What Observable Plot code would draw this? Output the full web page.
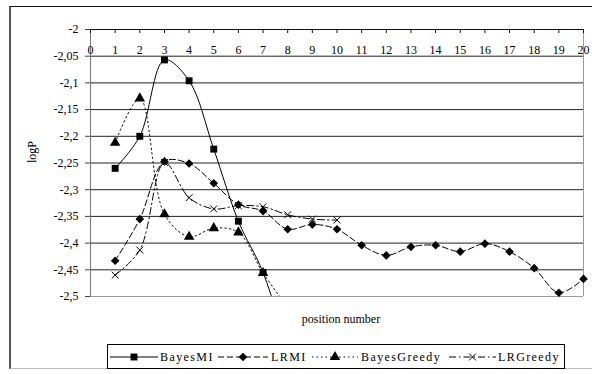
<!DOCTYPE html>
<html>
<head>
<meta charset="utf-8">
<script src="https://cdn.jsdelivr.net/npm/d3@7"></script>
<script src="https://cdn.jsdelivr.net/npm/@observablehq/plot@0.6"></script>
<style>
  html, body { margin: 0; padding: 0; background: #fff; }
  #wrap { position: relative; width: 592px; height: 374px; overflow: hidden; font-family: "Liberation Serif", "DejaVu Serif", serif; }
  #frame { position: absolute; left: 9px; top: 6px; width: 620px; height: 363px; border-top: 1px solid #111; border-left: 2px solid #555; border-bottom: 1px solid #bbb; box-sizing: border-box; }
  #chart { position: absolute; left: 0; top: 0; }
  #legend { position: absolute; left: 107px; top: 344px; width: 458px; height: 25px; border: 1px solid #000; box-sizing: border-box; background: #fff; }
  #legend svg { position: absolute; left: -1px; top: -1px; }
</style>
</head>
<body>
<div id="wrap">
  <div id="frame"></div>
  <div id="chart"></div>
  <div id="legend"></div>
</div>
<script>
// ---- data ----
const positions = [1, 2, 3, 4, 5, 6, 7, 8, 9, 10, 11, 12, 13, 14, 15, 16, 17, 18, 19, 20];
const seriesNames = ["BayesMI", "LRMI", "BayesGreedy", "LRGreedy"];
const bayesMI = [-2.26, -2.2, -2.057, -2.096, -2.224, -2.359, -2.455, -2.6];
const lrMI = [-2.433, -2.355, -2.247, -2.251, -2.288, -2.328, -2.34, -2.374, -2.365, -2.374,
              -2.404, -2.423, -2.407, -2.404, -2.416, -2.401, -2.416, -2.447, -2.493, -2.467];
const bayesGreedy = [-2.212, -2.129, -2.346, -2.388, -2.372, -2.38, -2.456, -2.52];
const lrGreedy = [-2.46, -2.413, -2.249, -2.315, -2.336, -2.33, -2.332, -2.347, -2.355, -2.357];
const xTicks = [0, 1, 2, 3, 4, 5, 6, 7, 8, 9, 10, 11, 12, 13, 14, 15, 16, 17, 18, 19, 20];
const yTicks = [-2, -2.05, -2.1, -2.15, -2.2, -2.25, -2.3, -2.35, -2.4, -2.45, -2.5];
const gridY = [-2.05, -2.1, -2.15, -2.2, -2.25, -2.3, -2.35, -2.4, -2.45];
const xLabel = "position number";
const yLabel = "logP";

// ---- styles ----
const styles = {
  BayesMI:     {dash: null,        symbol: "square",   r: 3.9, fill: "#000", stroke: "none"},
  LRMI:        {dash: "6,3",       symbol: "diamond2", r: 3.9, fill: "#000", stroke: "none"},
  BayesGreedy: {dash: "1.5,3",     symbol: "triangle", r: 3.9, fill: "#000", stroke: "none"},
  LRGreedy:    {dash: "7,3,1.5,3", symbol: "times",    r: 3.2, fill: "none", stroke: "#000"}
};
const values = {BayesMI: bayesMI, LRMI: lrMI, BayesGreedy: bayesGreedy, LRGreedy: lrGreedy};
const rows = name => values[name].map((v, i) => ({series: name, x: positions[i], y: v}));
const fmt = d => String(d).replace(".", ",");

const lineMarks = seriesNames.map(name => Plot.line(rows(name), {
  x: "x", y: "y", curve: "catmull-rom", stroke: "#000", strokeWidth: 1,
  strokeDasharray: styles[name].dash || undefined, clip: true
}));
// markers drawn in reverse order so BayesMI squares sit on top
const dotMarks = seriesNames.slice().reverse().map(name => Plot.dot(rows(name).filter(d => d.y >= -2.5), {
  x: "x", y: "y", symbol: () => styles[name].symbol, r: styles[name].r,
  fill: styles[name].fill, stroke: styles[name].stroke, strokeWidth: 1
}));

const chart = Plot.plot({
  width: 592, height: 374,
  marginLeft: 90, marginRight: 9, marginTop: 29, marginBottom: 78,
  x: {domain: [0, 20], axis: null},
  y: {domain: [-2.5, -2]},
  symbol: {type: "identity"},
  style: {fontFamily: "'Liberation Serif', serif", fontSize: "12px", background: "transparent", overflow: "visible", color: "#000"},
  marks: [
    Plot.ruleY(gridY, {stroke: "#222", strokeWidth: 1}),
    Plot.ruleY([-2.5], {stroke: "#9a9a9a"}),
    Plot.ruleX([20], {stroke: "#9a9a9a"}),
    Plot.ruleX([0], {stroke: "#777"}),
    Plot.ruleY([-2], {stroke: "#111"}),
    Plot.ruleX(xTicks, {x: d => d, y1: -2, y2: -2, insetBottom: -4, stroke: "#111"}),
    Plot.text(xTicks, {x: d => d, y: -2, dy: 21, text: d => String(d), fill: "#000"}),
    Plot.axisY({ticks: yTicks, tickFormat: fmt, tickSize: 5, tickPadding: 7, label: null, stroke: "#444"}),
    Plot.text([yLabel], {frameAnchor: "left", dx: -58, rotate: -90, fill: "#000"}),
    Plot.text([xLabel], {frameAnchor: "bottom", dy: 26, dx: 4, fill: "#000", letterSpacing: "0.5px"}),
    ...lineMarks,
    ...dotMarks
  ]
});
document.getElementById("chart").appendChild(chart);

// ---- legend ----
const legendItems = [
  {name: "BayesMI",     x0: 3,   x1: 51,  tx: 53},
  {name: "LRMI",        x0: 111, x1: 161, tx: 164},
  {name: "BayesGreedy", x0: 205, x1: 251, tx: 254},
  {name: "LRGreedy",    x0: 342, x1: 389, tx: 391}
];
const lsvg = d3.select("#legend").append("svg").attr("width", 458).attr("height", 25);
const symMap = {square: d3.symbolSquare, diamond2: d3.symbolDiamond2, triangle: d3.symbolTriangle, times: d3.symbolTimes};
for (const it of legendItems) {
  const st = styles[it.name];
  const cy = 13;
  lsvg.append("line").attr("x1", it.x0).attr("x2", it.x1).attr("y1", cy).attr("y2", cy)
    .attr("stroke", "#000").attr("stroke-width", 1).attr("stroke-dasharray", st.dash || null);
  const area = Math.PI * st.r * st.r;
  lsvg.append("path").attr("d", d3.symbol(symMap[st.symbol], area)())
    .attr("transform", `translate(${(it.x0 + it.x1) / 2},${cy})`)
    .attr("fill", st.fill).attr("stroke", st.stroke);
  lsvg.append("text").attr("x", it.tx).attr("y", cy).attr("dy", "0.35em")
    .attr("font-family", "'Liberation Serif', serif").attr("font-size", 12)
    .attr("letter-spacing", "1.4px").attr("fill", "#000").text(it.name);
}
</script>
</body>
</html>
